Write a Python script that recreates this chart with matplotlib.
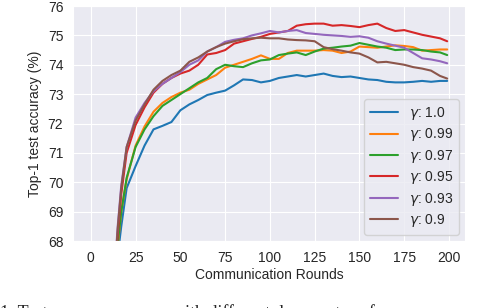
import matplotlib
matplotlib.use("Agg")
import matplotlib.pyplot as plt
import seaborn as sns

sns.set_style("darkgrid")
plt.rcParams['font.family'] = ['Liberation Sans', 'DejaVu Sans']
plt.rcParams['font.size'] = 10

rounds = [12, 15, 17, 20, 25, 30, 35, 40, 45, 50, 55, 60, 65, 70, 75, 80, 85, 90, 95, 100,
          105, 110, 115, 120, 125, 130, 135, 140, 145, 150, 155, 160, 165, 170, 175, 180,
          185, 190, 195, 199]

acc_100 = [64.5, 67.5, 68.5, 69.8, 70.55, 71.25, 71.8, 71.92, 72.05, 72.45, 72.65, 72.8, 72.97,
           73.05, 73.12, 73.3, 73.5, 73.48, 73.4, 73.45, 73.55, 73.6, 73.65, 73.6, 73.65, 73.7,
           73.62, 73.58, 73.6, 73.55, 73.5, 73.48, 73.42, 73.4, 73.4, 73.42, 73.45, 73.42, 73.45,
           73.45]
acc_099 = [64.7, 67.8, 69.0, 70.1, 71.25, 71.9, 72.4, 72.7, 72.9, 73.05, 73.15, 73.35, 73.5,
           73.65, 73.9, 74.0, 74.1, 74.2, 74.32, 74.2, 74.2, 74.4, 74.48, 74.48, 74.48, 74.5,
           74.48, 74.4, 74.45, 74.62, 74.6, 74.58, 74.62, 74.66, 74.64, 74.6, 74.48, 74.5, 74.52,
           74.52]
acc_097 = [64.8, 67.9, 69.0, 70.15, 71.2, 71.8, 72.25, 72.6, 72.8, 73.0, 73.2, 73.4, 73.55,
           73.85, 74.0, 73.95, 73.92, 74.05, 74.15, 74.18, 74.33, 74.38, 74.42, 74.33, 74.45,
           74.55, 74.58, 74.62, 74.65, 74.74, 74.68, 74.62, 74.58, 74.5, 74.52, 74.52, 74.5,
           74.45, 74.42, 74.33]
acc_095 = [65.5, 68.2, 69.6, 71.0, 71.95, 72.55, 73.05, 73.35, 73.55, 73.7, 73.8, 74.0, 74.35,
           74.4, 74.5, 74.72, 74.8, 74.88, 74.95, 75.05, 75.1, 75.15, 75.33, 75.38, 75.4, 75.4,
           75.33, 75.35, 75.32, 75.28, 75.35, 75.4, 75.25, 75.15, 75.18, 75.1, 75.02, 74.96,
           74.9, 74.8]
acc_093 = [65.8, 68.5, 69.9, 71.2, 72.2, 72.7, 73.1, 73.35, 73.55, 73.75, 74.0, 74.15, 74.45,
           74.6, 74.78, 74.85, 74.9, 75.0, 75.07, 75.15, 75.1, 75.15, 75.18, 75.08, 75.05, 75.02,
           75.0, 74.98, 74.95, 74.97, 74.92, 74.8, 74.72, 74.65, 74.58, 74.4, 74.22, 74.18,
           74.12, 74.05]
acc_090 = [65.6, 68.4, 69.8, 71.2, 72.1, 72.65, 73.15, 73.45, 73.65, 73.8, 74.1, 74.25, 74.45,
           74.6, 74.72, 74.8, 74.87, 74.9, 74.92, 74.9, 74.9, 74.86, 74.84, 74.83, 74.8, 74.6,
           74.53, 74.48, 74.42, 74.38, 74.25, 74.08, 74.1, 74.05, 74.0, 73.92, 73.87, 73.8,
           73.62, 73.53]

series = [("1.0", acc_100), ("0.99", acc_099), ("0.97", acc_097),
          ("0.95", acc_095), ("0.93", acc_093), ("0.9", acc_090)]

fig = plt.figure(figsize=(4.9, 3.08), dpi=100)
ax = fig.add_axes([0.149, 0.2175, 0.8, 0.763])

for name, vals in series:
    ax.plot(rounds, vals, lw=1.5, label=r"$\gamma$: " + name)

ax.set_xlim(-9.95, 208.95)
ax.set_ylim(68, 76)
ax.set_xticks(range(0, 201, 25))
ax.set_xlabel("Communication Rounds", labelpad=2)
ax.set_ylabel("Top-1 test accuracy (%)", labelpad=4)
ax.legend(loc="lower right", labelspacing=0.32, borderaxespad=0.45)

# caption of the paper figure, cut off at the bottom edge as in the source
fig.text(0.0, -0.045, "1. Test accuracy curves with different decay rates of",
         family="Liberation Serif", fontsize=13, va="bottom")

fig.savefig("out.png", dpi=100)
